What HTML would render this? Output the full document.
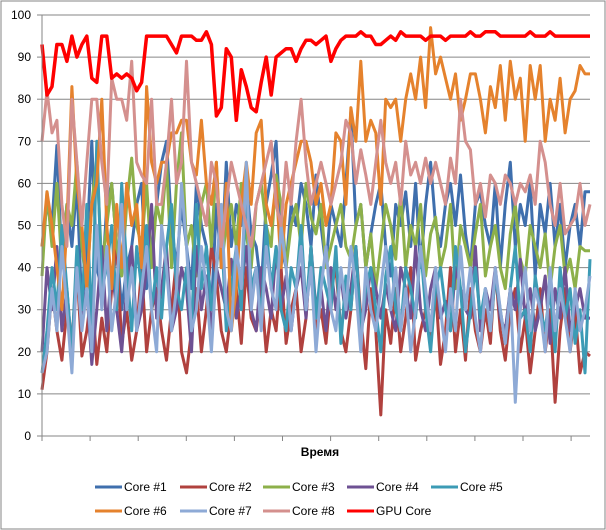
<!DOCTYPE html>
<html><head><meta charset="utf-8"><style>
body{margin:0;background:#fff}
svg{display:block;font-family:"Liberation Sans",sans-serif}
</style></head><body>
<svg width="606" height="530" viewBox="0 0 606 530">
<rect x="1" y="1" width="604" height="528" fill="#fff" stroke="#868686" stroke-width="1"/>
<g id="grid"></g>
<g id="series"></g>
<g id="axes"></g>
<text x="320" y="456" font-size="12" font-weight="bold" text-anchor="middle" fill="#000">Время</text>
<g id="legend"></g>
</svg>
<script>
const yTicks=[0,10,20,30,40,50,60,70,80,90,100];
const seriesNames=["Core #1","Core #2","Core #3","Core #4","Core #5","Core #6","Core #7","Core #8","GPU Core"];
const core1=[45,55,50,69,40,55,45,60,30,45,70,40,35,55,60,45,30,40,45,55,60,35,45,55,65,70,50,40,55,45,35,60,50,45,30,55,40,65,45,55,50,60,48,45,35,55,62,70,45,40,55,50,60,55,45,62,50,40,55,50,45,60,77,50,55,40,48,55,60,45,38,55,50,58,45,60,40,55,65,50,45,55,60,50,62,48,40,55,58,50,45,60,40,55,65,45,55,50,60,38,55,48,60,45,55,40,50,55,45,58,58];
const core2=[11,20,35,25,18,30,22,40,19,25,35,17,28,20,35,45,22,30,18,25,40,20,30,35,25,18,30,42,20,15,25,35,20,30,45,38,25,20,30,35,22,40,28,25,35,20,30,25,40,22,30,35,20,28,45,25,30,22,35,40,25,20,30,45,28,16,35,25,5,30,22,35,20,28,40,18,25,30,22,35,17,25,40,20,30,18,35,25,20,30,22,40,25,18,30,35,20,28,15,25,35,20,30,8,25,35,20,30,15,20,19];
const core3=[38,58,45,60,40,55,50,65,45,35,55,66,40,50,60,45,38,55,66,50,45,60,40,55,50,65,40,60,72,45,50,38,55,60,45,65,40,50,55,45,60,48,40,55,60,50,45,62,55,40,50,55,45,60,52,48,55,40,45,50,55,45,42,50,55,40,48,35,45,55,50,42,58,40,50,45,55,38,48,52,40,45,55,35,50,45,40,48,55,38,45,50,40,35,48,55,42,38,50,45,40,48,35,45,50,38,42,35,45,44,44];
const core4=[20,40,30,45,25,35,20,40,28,35,17,30,45,25,40,30,20,35,45,25,30,40,55,28,35,45,25,30,40,35,20,45,30,38,25,40,35,30,42,28,35,45,30,25,40,35,28,45,30,38,25,35,40,28,45,30,35,25,40,30,38,28,35,45,25,30,40,35,28,36,30,25,40,35,28,45,30,25,35,40,28,32,25,40,35,30,28,45,25,35,30,40,28,25,35,30,42,28,35,25,30,38,22,35,28,40,25,30,35,28,28];
const core5=[15,25,40,30,50,35,20,45,30,55,25,70,35,40,50,30,60,40,25,45,35,50,30,40,28,45,55,35,30,40,25,55,35,45,30,40,50,25,35,45,30,60,35,40,28,50,35,45,30,25,40,35,50,30,45,28,40,35,30,45,22,38,30,45,25,35,40,30,20,38,45,30,25,40,35,28,45,30,20,35,40,30,25,45,35,20,30,40,28,35,25,38,30,22,35,45,28,30,20,38,30,25,35,20,40,28,35,22,30,15,42];
const core6=[45,58,50,40,30,50,83,60,50,35,55,60,80,50,35,55,40,60,50,55,40,83,65,60,65,65,72,72,75,75,65,62,75,60,55,65,40,60,25,35,55,65,55,72,75,55,50,60,40,55,60,65,70,70,65,55,60,50,55,72,70,55,78,70,89,70,75,72,55,80,78,80,70,80,86,80,90,78,97,86,90,85,80,86,75,80,86,86,80,72,83,78,88,75,89,80,85,70,88,80,88,70,80,75,85,72,80,82,88,86,86];
const core7=[15,20,35,25,45,30,15,40,25,35,20,50,30,45,25,35,55,30,40,25,35,45,30,20,50,40,25,35,60,45,25,30,45,35,20,40,55,30,25,45,35,65,30,40,25,45,35,30,50,40,25,35,45,30,40,20,35,45,30,25,40,30,45,35,20,40,30,25,35,45,30,40,25,35,20,30,45,35,25,40,30,20,35,25,45,30,40,28,20,35,25,40,30,22,35,8,30,40,25,35,30,20,40,25,35,28,20,35,25,30,38];
const core8=[70,82,72,75,55,45,80,65,50,65,80,80,65,55,85,80,80,75,89,65,62,60,80,55,55,65,80,60,65,89,65,60,55,50,65,60,45,55,65,60,55,50,45,55,60,65,70,55,50,65,55,70,80,65,55,60,65,60,55,60,65,75,72,60,68,62,55,65,75,65,60,65,55,70,62,65,60,66,60,65,60,55,66,60,80,70,68,55,60,52,62,60,55,62,60,55,60,58,62,55,70,65,55,50,60,48,50,52,60,50,55];
const gpu=[93,81,83,93,93,89,95,90,93,95,85,84,95,95,85,86,85,86,85,82,84,95,95,95,95,95,93,91,95,95,95,94,94,96,93,76,78,92,90,75,87,83,78,77,84,90,81,90,91,92,92,89,92,94,94,93,94,95,89,92,94,95,95,95,96,95,95,93,93,94,95,94,96,95,95,95,95,94,95,95,95,94,95,95,95,95,96,95,95,96,96,96,95,95,95,95,95,95,96,95,95,95,96,95,95,95,95,95,95,95,95];
const allSeries=[core1,core2,core3,core4,core5,core6,core7,core8,gpu];
const colors=["#3F6FAD","#B0413E","#8DB04A","#6E5193","#3C9BB5","#E5822D","#8EAAD6","#D4908E","#FF0000"];
const widths=[3,3,3,3,3,3,3,3,3.5];

const NS="http://www.w3.org/2000/svg";
const X0=42,X1=590,Y0=436,Y1=15;
const N=gpu.length;
function xs(i){return X0+i*(X1-X0)/(N-1);}
function ys(v){return Y0-(v/100)*(Y0-Y1);}
function mk(t,a,p){const e=document.createElementNS(NS,t);for(const k in a)e.setAttribute(k,a[k]);p.appendChild(e);return e;}
const grid=document.getElementById('grid'),axes=document.getElementById('axes'),ser=document.getElementById('series'),leg=document.getElementById('legend');
yTicks.forEach(v=>{
  if(v>0){const l=mk('line',{x1:X0,x2:X1,y1:ys(v),y2:ys(v),stroke:'#868686','stroke-width':1},grid);
  
  }
  const tk=mk('line',{x1:X0-5,x2:X0,y1:ys(v),y2:ys(v),stroke:'#868686'},axes);
  
  
  const t=mk('text',{x:31,y:ys(v)+4,'font-size':12,'text-anchor':'end',fill:'#000'},axes);
  t.textContent=v;
  
  
});
const ya=mk('line',{x1:X0,x2:X0,y1:Y1,y2:Y0,stroke:'#868686'},axes);


const xa=mk('line',{x1:X0,x2:X1,y1:Y0,y2:Y0,stroke:'#868686'},axes);


for(let x=X0;x<=X1;x+=48.1){
  const tk=mk('line',{x1:x,x2:x,y1:Y0,y2:Y0+5,stroke:'#868686'},axes);
  
  
}
allSeries.forEach((d,s)=>{
  const pts=d.map((v,i)=>xs(i).toFixed(1)+','+ys(v).toFixed(1)).join(' ');
  const p=mk('polyline',{points:pts,fill:'none',stroke:colors[s],'stroke-width':widths[s],'stroke-linejoin':'round'},ser);
  
  
});
const legX=[95,180,263,347,431];
seriesNames.forEach((n,s)=>{
  const row=s<5?0:1,col=s<5?s:s-5;
  const y=row?511:487,x=legX[col];
  const g=mk('g',{},leg);
  
  
  mk('line',{x1:x,x2:x+27,y1:y,y2:y,stroke:colors[s],'stroke-width':3},g);
  const t=mk('text',{x:x+29,y:y+4,'font-size':12,fill:'#000'},g);
  t.textContent=n;
});
</script>
</body></html>
